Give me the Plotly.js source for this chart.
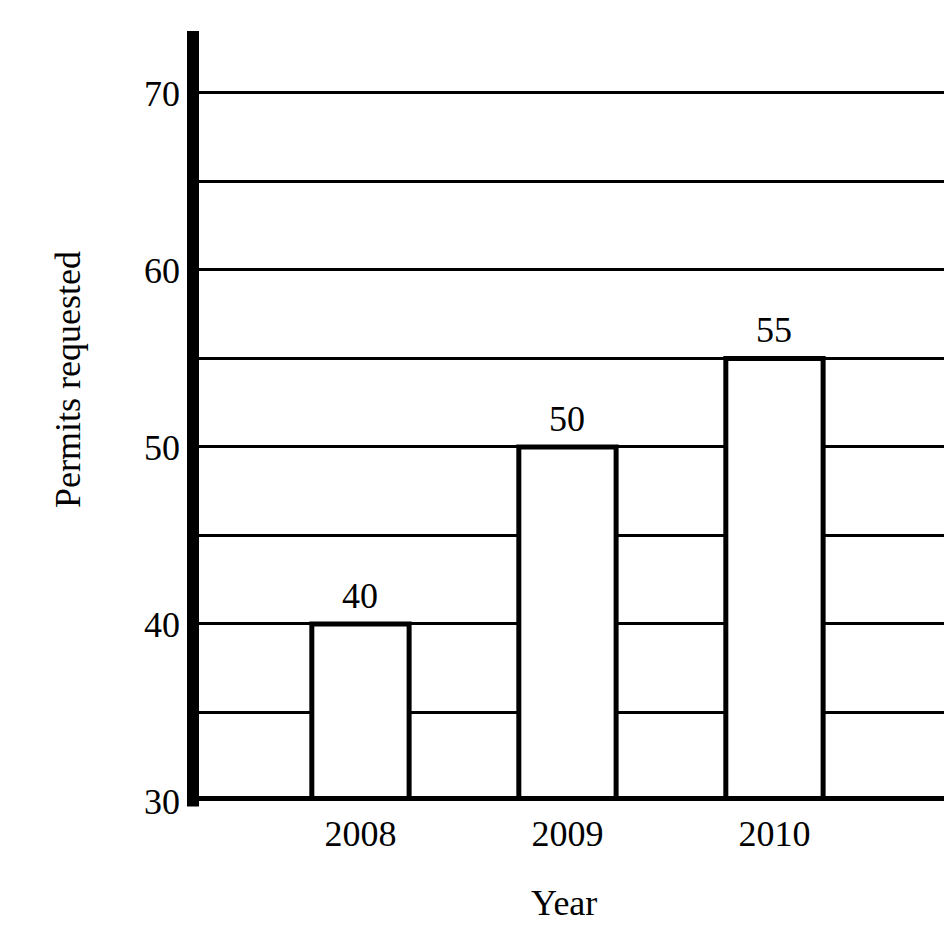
<!DOCTYPE html>
<html>
<head>
<meta charset="utf-8">
<script src="https://cdn.plot.ly/plotly-3.0.1.min.js"></script>
<style>html,body{margin:0;padding:0;background:#fff;}#chart{width:944px;height:940px;}</style>
</head>
<body>
<div id="chart"></div>
<script>
var years = ['2008', '2009', '2010'];
var permits = [40, 50, 55];
var yTickVals = [30, 35, 40, 45, 50, 55, 60, 65, 70];
var yTickText = ['30', '', '40', '', '50', '', '60', '', '70'];
var xTitle = 'Year';
var yTitle = 'Permits requested';

var FONT = 'Liberation Serif, Times New Roman, serif';

var trace = {
  type: 'bar',
  x: years,
  y: permits,
  base: 0,
  width: 0.47,
  marker: {color: '#ffffff', line: {color: '#000000', width: 5}},
  hoverinfo: 'none'
};

var labelAnns = years.map(function (yr, i) {
  return {
    x: years.indexOf(yr), y: permits[i], xref: 'x', yref: 'y',
    text: String(permits[i]), showarrow: false,
    yanchor: 'bottom', yshift: 6,
    font: {family: FONT, size: 36, color: '#000'}
  };
});

var layout = {
  width: 944, height: 940,
  margin: {l: 193, r: 0, t: 31, b: 139, pad: 0},
  paper_bgcolor: '#fff', plot_bgcolor: '#fff',
  showlegend: false,
  font: {family: FONT, size: 36, color: '#000'},
  xaxis: {
    type: 'category',
    range: [-0.809, 2.819],
    showgrid: false, zeroline: false, showline: false,
    ticks: '', ticklabelstandoff: 8,
    tickfont: {family: FONT, size: 36, color: '#000'}
  },
  yaxis: {
    range: [30, 73.5],
    tickvals: yTickVals, ticktext: yTickText,
    showgrid: true, gridcolor: '#000', gridwidth: 3,
    zeroline: false, showline: false,
    ticks: '', ticklabelstandoff: 12,
    tickfont: {family: FONT, size: 36, color: '#000'}
  },
  shapes: [
    {type: 'line', xref: 'paper', yref: 'paper', x0: 0, x1: 0, y0: -0.007, y1: 1,
     line: {color: '#000', width: 12}},
    {type: 'line', xref: 'paper', yref: 'y', x0: -0.008, x1: 1, y0: 30, y1: 30,
     line: {color: '#000', width: 10}}
  ],
  annotations: labelAnns.concat([
    {xref: 'paper', yref: 'paper', x: 0.494, y: -0.1325, text: xTitle, showarrow: false,
     xanchor: 'center', yanchor: 'middle', font: {family: FONT, size: 36, color: '#000'}},
    {xref: 'paper', yref: 'paper', x: -0.1664, y: 0.5468, text: yTitle, showarrow: false,
     textangle: -90, xanchor: 'center', yanchor: 'middle', font: {family: FONT, size: 36, color: '#000'}}
  ])
};

Plotly.newPlot('chart', [trace], layout, {displayModeBar: false, staticPlot: true});
</script>
</body>
</html>
